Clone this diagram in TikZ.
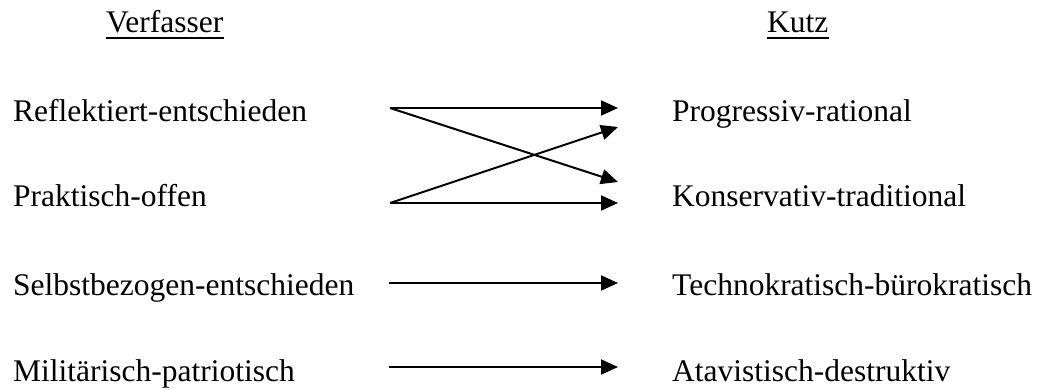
\documentclass[tikz,border=0pt]{standalone}
\usepackage{fontspec}
\setmainfont{Liberation Serif}
\usetikzlibrary{arrows.meta}
\begin{document}
\begin{tikzpicture}[x=1pt,y=-1pt,
  lbl/.style={anchor=base west,inner sep=0pt,font=\fontsize{31.5}{38}\selectfont},
  conn/.style={line width=2pt,-{Triangle[length=17pt,width=15pt]}},
  uline/.style={line width=2pt}]
\useasboundingbox (0,0) rectangle (1047,390);
% headers
\node[lbl] (hv) at (106,33) {Verfasser};
\node[lbl] (hk) at (767,33) {Kutz};
\draw[uline] ([yshift=-5pt]hv.base west) -- ([yshift=-5pt]hv.base east);
\draw[uline] ([yshift=-5pt]hk.base west) -- ([yshift=-5pt]hk.base east);
% left labels
\node[lbl] (l1) at (13,122) {Reflektiert-entschieden};
\node[lbl] (l2) at (13,207) {Praktisch-offen};
\node[lbl] (l3) at (13,295) {Selbstbezogen-entschieden};
\node[lbl] (l4) at (13,381) {Militärisch-patriotisch};
% right labels
\node[lbl] (r1) at (672,122) {Progressiv-rational};
\node[lbl] (r2) at (672,207) {Konservativ-traditional};
\node[lbl] (r3) at (672,295) {Technokratisch-bürokratisch};
\node[lbl] (r4) at (672,381) {Atavistisch-destruktiv};
% connector ends
\coordinate (s1) at (390,108);
\coordinate (s2) at (390,203);
\coordinate (s3) at (389,283);
\coordinate (s4) at (389,367);
\coordinate (e1) at (618,108);
\coordinate (e1b) at (618,127);
\coordinate (e2a) at (618,182);
\coordinate (e2) at (618,203);
\coordinate (e3) at (618,283);
\coordinate (e4) at (618,367);
\draw[conn] (s1) -- (e1);
\draw[conn] (s1) -- (e2a);
\draw[conn] (s2) -- (e1b);
\draw[conn] (s2) -- (e2);
\draw[conn] (s3) -- (e3);
\draw[conn] (s4) -- (e4);
\end{tikzpicture}
\end{document}
